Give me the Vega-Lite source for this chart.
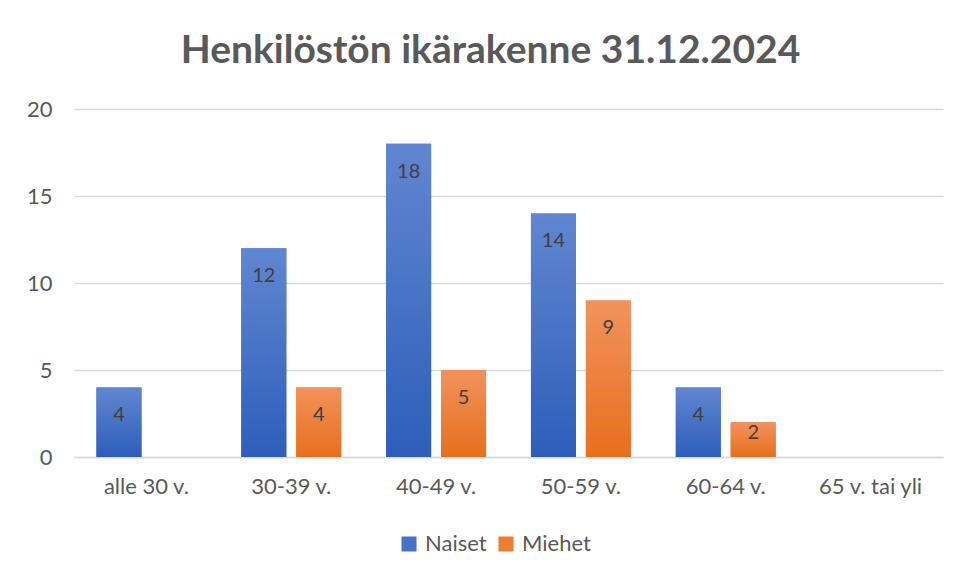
{
  "$schema": "https://vega.github.io/schema/vega-lite/v6.json",
  "width": 869,
  "height": 348,
  "autosize": {"type": "none"},
  "padding": {"left": 74, "top": 109, "right": 15, "bottom": 119},
  "background": "white",
  "title": {
    "text": "Henkilöstön ikärakenne 31.12.2024",
    "font": "Lato",
    "fontSize": 39,
    "fontWeight": "bold",
    "color": "#595959",
    "anchor": "middle",
    "dx": -18,
    "dy": 15,
    "offset": 42
  },
  "data": {
    "values": [
      {"ika": "alle 30 v.", "sukupuoli": "Naiset", "maara": 4},
      {"ika": "30-39 v.", "sukupuoli": "Naiset", "maara": 12},
      {"ika": "30-39 v.", "sukupuoli": "Miehet", "maara": 4},
      {"ika": "40-49 v.", "sukupuoli": "Naiset", "maara": 18},
      {"ika": "40-49 v.", "sukupuoli": "Miehet", "maara": 5},
      {"ika": "50-59 v.", "sukupuoli": "Naiset", "maara": 14},
      {"ika": "50-59 v.", "sukupuoli": "Miehet", "maara": 9},
      {"ika": "60-64 v.", "sukupuoli": "Naiset", "maara": 4},
      {"ika": "60-64 v.", "sukupuoli": "Miehet", "maara": 2}
    ]
  },
  "encoding": {
    "x": {
      "field": "ika",
      "type": "nominal",
      "sort": null,
      "scale": {
        "domain": ["alle 30 v.", "30-39 v.", "40-49 v.", "50-59 v.", "60-64 v.", "65 v. tai yli"],
        "paddingInner": 0.31,
        "paddingOuter": 0.155
      },
      "axis": {
        "title": null,
        "labelAngle": 0,
        "labelFont": "Lato",
        "labelFontSize": 22,
        "labelColor": "#595959",
        "labelPadding": 19,
        "ticks": false,
        "domainColor": "#d9d9d9",
        "domainWidth": 1.5,
        "grid": false
      }
    },
    "xOffset": {
      "field": "sukupuoli",
      "type": "nominal",
      "scale": {"domain": ["Naiset", "Miehet"], "paddingInner": 0.18, "paddingOuter": 0}
    },
    "y": {
      "field": "maara",
      "type": "quantitative",
      "scale": {"domain": [0, 20], "nice": false},
      "axis": {
        "title": null,
        "values": [0, 5, 10, 15, 20],
        "labelFont": "Lato",
        "labelFontSize": 22,
        "labelColor": "#595959",
        "labelPadding": 22,
        "ticks": false,
        "domain": false,
        "gridColor": "#d9d9d9",
        "gridWidth": 1.5
      }
    }
  },
  "layer": [
    {
      "mark": {"type": "bar"},
      "encoding": {
        "color": {
          "field": "sukupuoli",
          "type": "nominal",
          "scale": {"domain": ["Naiset", "Miehet"], "range": ["#4472C4", "#ED7D31"]},
          "legend": {
            "title": null,
            "orient": "none",
            "direction": "horizontal",
            "legendX": 324,
            "legendY": 424,
            "symbolType": "square",
            "symbolSize": 225,
            "symbolStrokeWidth": 0,
            "labelFont": "Lato",
            "labelFontSize": 22,
            "labelColor": "#595959",
            "labelOffset": 5,
            "columnPadding": 8
          }
        }
      }
    },
    {
      "transform": [{"filter": "datum.sukupuoli === 'Naiset'"}],
      "mark": {
        "type": "bar",
        "color": {"gradient": "linear", "x1": 0, "y1": 0, "x2": 0, "y2": 1, "stops": [{"offset": 0, "color": "#6186D0"}, {"offset": 1, "color": "#2D5EBA"}]}
      }
    },
    {
      "transform": [{"filter": "datum.sukupuoli === 'Miehet'"}],
      "mark": {
        "type": "bar",
        "color": {"gradient": "linear", "x1": 0, "y1": 0, "x2": 0, "y2": 1, "stops": [{"offset": 0, "color": "#F1925C"}, {"offset": 1, "color": "#E86F1C"}]}
      }
    },
    {
      "transform": [{"filter": "datum.maara >= 3"}],
      "mark": {"type": "text", "baseline": "middle", "dy": 28, "font": "Lato", "fontSize": 20, "color": "#404040"},
      "encoding": {
        "text": {"field": "maara", "type": "quantitative"}
      }
    },
    {
      "transform": [{"filter": "datum.maara < 3"}],
      "mark": {"type": "text", "baseline": "middle", "dy": 11, "font": "Lato", "fontSize": 20, "color": "#404040"},
      "encoding": {
        "text": {"field": "maara", "type": "quantitative"}
      }
    }
  ],
  "config": {
    "view": {"stroke": null}
  }
}
